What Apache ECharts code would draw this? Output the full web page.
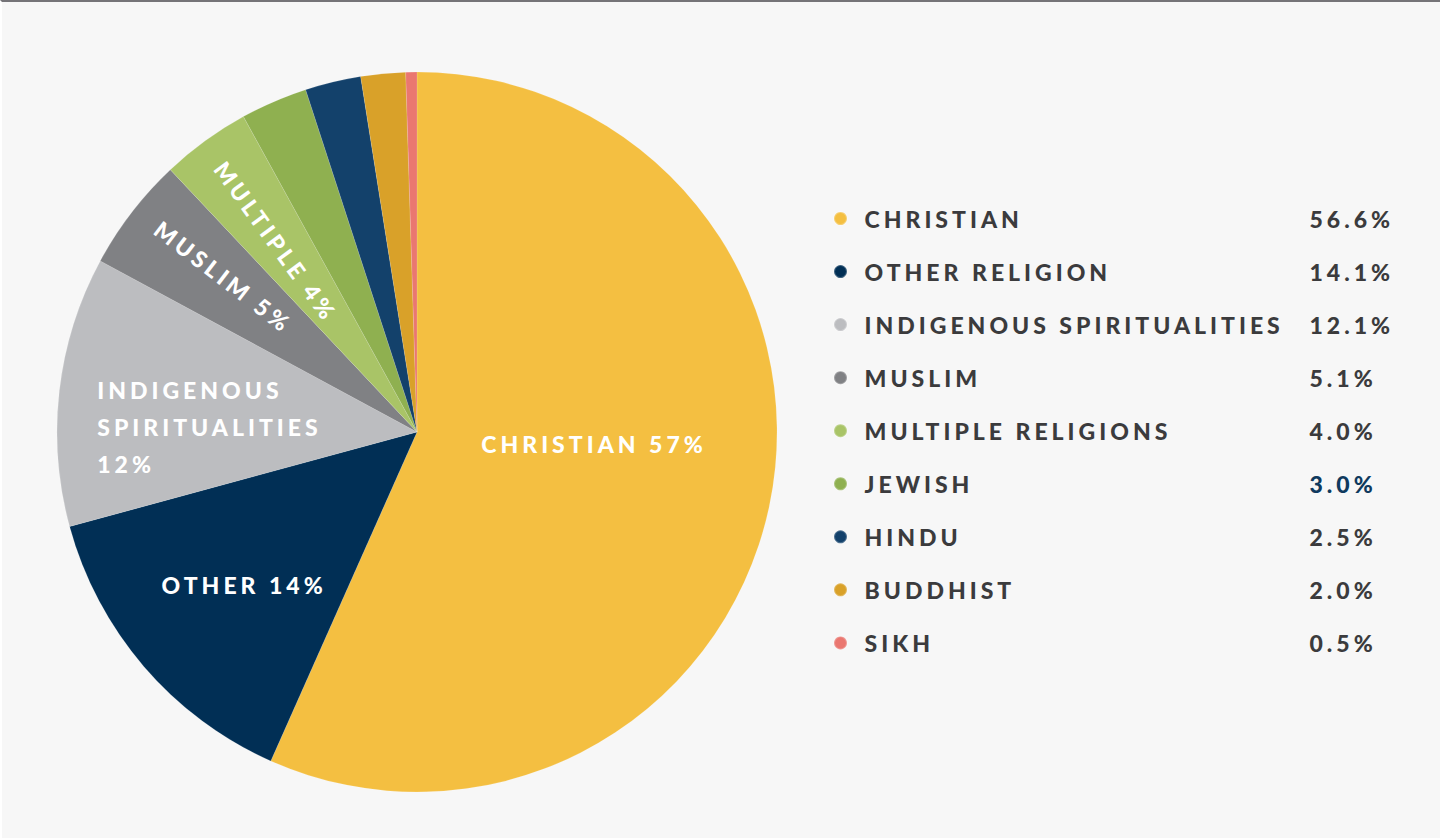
<!DOCTYPE html>
<html>
<head>
<meta charset="utf-8">
<script src="https://cdn.jsdelivr.net/npm/echarts@6/dist/echarts.min.js"></script>
<style>
  html, body { margin: 0; padding: 0; background: #ffffff; }
  #chartPie {
    width: 1438px;
    height: 836px;
    background: #f7f7f7;
    border-top: 2px solid #757478;
    border-left: 2px solid #ffffff;
  }
  /* letter spacing like the original type */
  #chartPie svg text { letter-spacing: 4px; }
</style>
</head>
<body>
<div id="chartPie"></div>
<script>
// legend names, short names on the slices, and shares in percent
const names = ["CHRISTIAN", "OTHER RELIGION", "INDIGENOUS SPIRITUALITIES", "MUSLIM",
  "MULTIPLE RELIGIONS", "JEWISH", "HINDU", "BUDDHIST", "SIKH"];
const sliceNames = ["CHRISTIAN", "OTHER", "INDIGENOUS\nSPIRITUALITIES\n", "MUSLIM",
  "MULTIPLE", "", "", "", ""];
const values = [56.6, 14.1, 12.1, 5.1, 4.0, 3.0, 2.5, 2.0, 0.5];
const colors = ["#F4BF41", "#012F55", "#BCBDC0", "#808184", "#A9C467",
  "#8FB050", "#13416B", "#D9A129", "#EA7770"];

const font = "Lato";
const weight = 900;

// 基于准备好的dom，初始化echarts实例
var myChart = echarts.init(document.getElementById("chartPie"), null, { renderer: "svg" });

var data = [];
for (var i = 0; i < names.length; i++) {
  var item = { name: names[i], value: values[i], itemStyle: { color: colors[i] } };
  if (i === 3 || i === 4) {
    item.label = { rotate: "radial" };
  }
  if (i === 2) {
    item.label = { lineHeight: 37 };
  }
  data.push(item);
}

// small shifts of the slice labels (rotated labels shift along their own axes)
var labelShift = {
  0: [-2, -26],
  1: [-34, 34],
  2: [-138, 16],
  3: [-65, -5],
  4: [-54, 2],
};

var option = {
  legend: {
    orient: "vertical",
    left: 826,
    top: 200,
    icon: "circle",
    itemWidth: 38,
    itemHeight: 13,
    itemGap: 30.05,
    selectedMode: false,
    formatter: function (name) {
      var idx = names.indexOf(name);
      var v = values[idx].toFixed(1) + "%";
      return "{n|" + name + "}" + (idx === 5 ? "{h|" + v + "}" : "{v|" + v + "}");
    },
    textStyle: {
      rich: {
        n: { width: 445, fontFamily: font, fontWeight: weight, fontSize: 23, color: "#3b3b3d", lineHeight: 24 },
        v: { fontFamily: font, fontWeight: weight, fontSize: 23, color: "#3b3b3d", lineHeight: 24 },
        h: { fontFamily: font, fontWeight: weight, fontSize: 23, color: "#0F3A5E", lineHeight: 24 },
      },
    },
  },
  series: [
    {
      type: "pie",
      center: [415, 430],
      radius: [0, 360],
      startAngle: 90,
      clockwise: true,
      avoidLabelOverlap: false,
      silent: true,
      itemStyle: { borderColor: "rgba(255,255,255,0.25)", borderWidth: 0.5 },
      label: {
        show: true,
        position: "inside",
        color: "#ffffff",
        fontFamily: font,
        fontWeight: weight,
        fontSize: 23,
        formatter: function (p) {
          var s = sliceNames[p.dataIndex];
          if (!s) return "";
          return s + (s.slice(-1) === "\n" ? "" : " ") + Math.round(p.value) + "%";
        },
      },
      labelLine: { show: false },
      labelLayout: function (params) {
        var d = labelShift[params.dataIndex];
        if (!d) return {};
        var out = { dx: d[0], dy: d[1] };
        if (params.dataIndex === 2) out.align = "left";
        return out;
      },
      data: data,
    },
  ],
};

// 绘制图表
myChart.setOption(option);
</script>
</body>
</html>
